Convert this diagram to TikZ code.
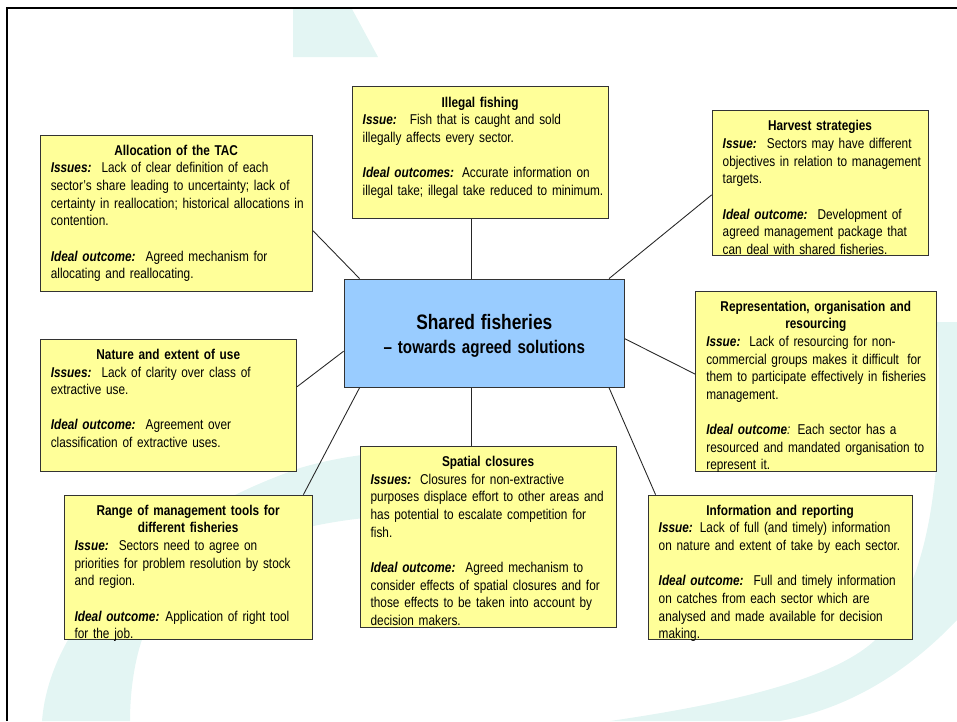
\documentclass[tikz,border=0pt]{standalone}
\usepackage{fontspec}
\setmainfont{Liberation Sans}[FakeStretch=0.83]
\usetikzlibrary{calc}
\definecolor{boxyellow}{HTML}{FFFF99}
\definecolor{boxblue}{HTML}{99CCFF}
\definecolor{wm}{HTML}{E3F5F3}
\tikzset{
  ybox/.style={draw=black!80, fill=boxyellow, line width=0.6pt, inner sep=0pt},
  cbox/.style={draw=black!80, fill=boxblue, line width=0.6pt, inner sep=0pt},
  btext/.style={anchor=north west, inner sep=0pt, align=left, font=\fontsize{8.1}{10.03}\selectfont},
  link/.style={draw=black!85, line width=0.5pt},
  frameline/.style={draw=black, line width=1.4pt},
  wmark/.style={fill=wm, draw=none},
}
\newcommand\lbl[1]{\textbf{\textit{#1}}}
\newcommand\pbox[6]{\node[#2, minimum width={(#5-#3)*0.02cm}, minimum height={(#6-#4)*0.02cm}] (#1) at ({(#3+#5)/2},{(#4+#6)/2}) {};}
\begin{document}
\begin{tikzpicture}[x=0.02cm, y=-0.02cm]
\useasboundingbox (0,0) rectangle (957,721);
% watermark
\fill[wmark] (293,9) -- (352,9) -- (378,57) -- (293,57) -- cycle;
\fill[wmark] (937,322) -- (957,322) -- (957,620) .. controls (900,680) and (840,710) .. (780,721) -- (610,721) .. controls (720,705) and (840,680) .. (880,635) .. controls (930,580) and (945,470) .. (937,322) -- cycle;
\fill[wmark] (42,721) .. controls (50,620) and (150,520) .. (300,468) .. controls (340,456) and (380,452) .. (420,450) -- (420,515) .. controls (330,515) and (200,540) .. (150,620) .. controls (135,650) and (130,690) .. (130,721) -- cycle;
% frame
\draw[frameline] (7,721) -- (7,8) -- (957,8);
% boxes
\pbox{alloc}{ybox}{40.3}{135.2}{312.5}{291.1}
\pbox{illegal}{ybox}{352.2}{86.9}{608.5}{218.9}
\pbox{harvest}{ybox}{712.2}{110.8}{928.3}{255.2}
\pbox{repr}{ybox}{695.8}{291.1}{936.2}{471.3}
\pbox{nature}{ybox}{40.3}{339.3}{296.6}{471.3}
\pbox{range}{ybox}{64.1}{495.2}{312.5}{639.2}
\pbox{spatial}{ybox}{360.1}{446.5}{616.4}{627.2}
\pbox{info}{ybox}{648.2}{495.2}{912.4}{639.2}
\pbox{center}{cbox}{344.2}{279.1}{624.4}{387.2}
% connectors
\draw[link] ($(alloc.north east)+(0,96.1)$) -- ($(center.north west)+(15.9,0)$);
\draw[link] ($(center.north)+(-12.5,0)$) coordinate (cn) -- (cn |- illegal.south);
\draw[link] ($(harvest.north west)+(0,84.6)$) -- ($(center.north east)+(-15.9,0)$);
\draw[link] ($(repr.north west)+(0,83.6)$) -- ($(center.north east)+(0,60.2)$);
\draw[link] ($(nature.north east)+(0,47.9)$) -- ($(center.north west)+(0,72.6)$);
\draw[link] ($(range.north west)+(239.8,0)$) -- ($(center.south west)+(15.9,0)$);
\draw[link] ($(center.south)+(-12.5,0)$) coordinate (cs) -- (cs |- spatial.north);
\draw[link] ($(info.north west)+(7.9,0)$) -- ($(center.south east)+(-15.9,0)$);
% center text
\node[align=center, inner sep=0pt, text width=5cm] (ctitle) at ($(center)+(0,3)$)
  {\bfseries{\fontsize{11.9}{13.6}\selectfont Shared fisheries\par}{\fontsize{10.4}{13.6}\selectfont – towards agreed solutions\par}};
% box texts
\node[btext, text width=5.016cm] (talloc) at ($(alloc.north west)+(10.7,10)$) {%
{\centering\bfseries Allocation of the TAC\par}
\mbox{\lbl{Issues:}\hspace{5.7pt}Lack of clear definition of each}\\
\mbox{sector’s share leading to uncertainty; lack of}\\
\mbox{certainty in reallocation; historical allocations in}\\
\mbox{contention.}\\[10.03pt]
\mbox{\lbl{Ideal outcome:}\hspace{5.7pt}Agreed mechanism for}\\
\mbox{allocating and reallocating.}};
\node[btext, text width=4.698cm] (tillegal) at ($(illegal.north west)+(10.7,10)$) {%
{\centering\bfseries Illegal fishing\par}
\mbox{\lbl{Issue:}\hspace{7.4pt}Fish that is caught and sold}\\
\mbox{illegally affects every sector.}\\[10.03pt]
\mbox{\lbl{Ideal outcomes:}\hspace{4.5pt}Accurate information on}\\
\mbox{illegal take; illegal take reduced to minimum.}};
\node[btext, text width=3.894cm] (tharvest) at ($(harvest.north west)+(10.7,10)$) {%
{\centering\bfseries Harvest strategies\par}
\mbox{\lbl{Issue:}\hspace{5.7pt}Sectors may have different}\\
\mbox{objectives in relation to management}\\
\mbox{targets.}\\[10.03pt]
\mbox{\lbl{Ideal outcome:}\hspace{5.7pt}Development of}\\
\mbox{agreed management package that}\\
\mbox{can deal with shared fisheries.}};
\node[btext, text width=4.38cm] (trepr) at ($(repr.north west)+(10.7,10)$) {%
{\centering\bfseries Representation, organisation and\\ resourcing\par}
\mbox{\lbl{Issue:}\hspace{5pt}Lack of resourcing for non-}\\
\mbox{commercial groups makes it difficult\hspace{2pt} for}\\
\mbox{them to participate effectively in fisheries}\\
\mbox{management.}\\[10.03pt]
\mbox{\lbl{Ideal outcome}\textit{:} Each sector has a}\\
\mbox{resourced and mandated organisation to}\\
\mbox{represent it.}};
\node[btext, text width=4.698cm] (tnature) at ($(nature.north west)+(10.7,10)$) {%
{\centering\bfseries Nature and extent of use\par}
\mbox{\lbl{Issues:}\hspace{5.7pt}Lack of clarity over class of}\\
\mbox{extractive use.}\\[10.03pt]
\mbox{\lbl{Ideal outcome:}\hspace{5.7pt}Agreement over}\\
\mbox{classification of extractive uses.}};
\node[btext, text width=4.54cm] (trange) at ($(range.north west)+(10.7,10)$) {%
{\centering\bfseries Range of management tools for\\ different fisheries\par}
\mbox{\lbl{Issue:}\hspace{5.7pt}Sectors need to agree on}\\
\mbox{priorities for problem resolution by stock}\\
\mbox{and region.}\\[10.03pt]
\mbox{\lbl{Ideal outcome:}\hspace{3.4pt}Application of right tool}\\
\mbox{for the job.}};
\node[btext, text width=4.698cm] (tspatial) at ($(spatial.north west)+(10.7,10)$) {%
{\centering\bfseries Spatial closures\par}
\mbox{\lbl{Issues:}\hspace{5pt}Closures for non-extractive}\\
\mbox{purposes displace effort to other areas and}\\
\mbox{has potential to escalate competition for}\\
\mbox{fish.}\\[10.03pt]
\mbox{\lbl{Ideal outcome:}\hspace{5.7pt}Agreed mechanism to}\\
\mbox{consider effects of spatial closures and for}\\
\mbox{those effects to be taken into account by}\\
\mbox{decision makers.}};
\node[btext, text width=4.856cm] (tinfo) at ($(info.north west)+(10.7,10)$) {%
{\centering\bfseries Information and reporting\par}
\mbox{\lbl{Issue:}\hspace{4pt}Lack of full (and timely) information}\\
\mbox{on nature and extent of take by each sector.}\\[10.03pt]
\mbox{\lbl{Ideal outcome:}\hspace{5.7pt}Full and timely information}\\
\mbox{on catches from each sector which are}\\
\mbox{analysed and made available for decision}\\
\mbox{making.}};
\end{tikzpicture}
\end{document}
